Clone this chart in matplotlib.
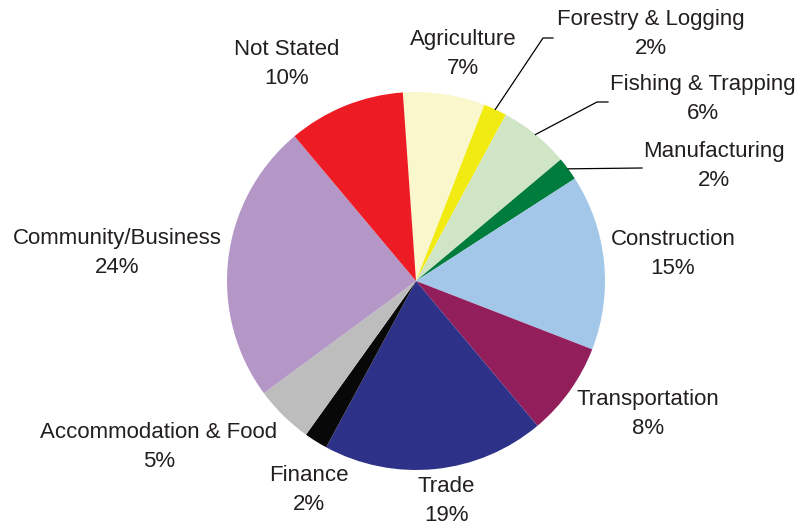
import numpy as np
import matplotlib
matplotlib.use("Agg")
import matplotlib.pyplot as plt

plt.rcParams['font.family'] = ['Liberation Sans', 'DejaVu Sans']

sectors = ["Agriculture", "Forestry & Logging", "Fishing & Trapping", "Manufacturing",
           "Construction", "Transportation", "Trade", "Finance",
           "Accommodation & Food", "Community/Business", "Not Stated"]
shares = [7, 2, 6, 2, 15, 8, 19, 2, 5, 24, 10]
colors = ["#faf7cc", "#f2eb12", "#d0e5c6", "#007c3c", "#a2c7e9", "#921e5c",
          "#2e3188", "#080808", "#bdbdbd", "#b497c6", "#ed1c24"]

# label centres in pixels (x, y from top) -- layout only
label_pos = {
    "Agriculture": (463, 54),
    "Forestry & Logging": (651, 34),
    "Fishing & Trapping": (703, 99),
    "Manufacturing": (714, 166),
    "Construction": (673, 254),
    "Transportation": (648, 414),
    "Trade": (446, 501),
    "Finance": (309, 490),
    "Accommodation & Food": (159, 447),
    "Community/Business": (117, 253),
    "Not Stated": (287, 64),
}
# leader lines: kink point and end point (pixels)
leaders = {
    "Forestry & Logging": [(543, 38), (553, 38)],
    "Fishing & Trapping": [(597, 102), (608, 102)],
    "Manufacturing": [(642, 168)],
}

W, H = 800, 527
fig = plt.figure(figsize=(8, 5.27), dpi=100)
ax = fig.add_axes([0, 0, 1, 1])

cx, cy, r = 416, H - 281, 189
wedges, _ = ax.pie(shares, colors=colors, startangle=94, counterclock=False,
                   center=(cx, cy), radius=r, frame=True,
                   wedgeprops=dict(linewidth=0))
ax.set_xlim(0, W)
ax.set_ylim(0, H)
ax.set_aspect("equal")
ax.axis("off")

txt = "#231f20"
for name, val, w in zip(sectors, shares, wedges):
    x, y = label_pos[name]
    ax.text(x, H - y, f"{name}\n{val}%", ha="center", va="center",
            fontsize=16, color=txt, linespacing=1.45)
    if name in leaders:
        mid = np.deg2rad((w.theta1 + w.theta2) / 2)
        pts = [(cx + r * np.cos(mid), cy + r * np.sin(mid))]
        pts += [(px, H - py) for px, py in leaders[name]]
        xs, ys = zip(*pts)
        ax.plot(xs, ys, color="black", linewidth=0.9)

fig.savefig("out.png", dpi=100)
